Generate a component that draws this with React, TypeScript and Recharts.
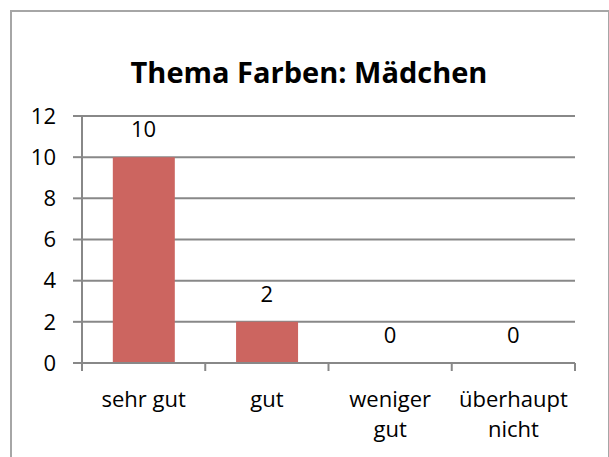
import { ComposedChart, Bar, Line, XAxis, YAxis, CartesianGrid, LabelList } from 'recharts'

const categories = ['sehr gut', 'gut', 'weniger gut', 'überhaupt nicht']
const values = [10, 2, 0, 0]
const yTicks = [0, 2, 4, 6, 8, 10, 12]

const chartData = categories.map((name, i) => ({ name, value: values[i] }))

const FONT = '"Open Sans", sans-serif'
const GRID = '#888888'
const BAR = '#CC6560'

// long labels go on two lines, as in the original
const wrapLabel = (s: string) => (s.length > 9 ? s.split(' ') : [s])

// category labels sit between boundary ticks, like the spreadsheet original
const CategoryTick = (props: any) => {
    const { x, y, payload, index, visibleTicksCount, width } = props
    const half = payload.offset ?? width / visibleTicksCount / 2
    const lines = wrapLabel(String(payload.value))
    return (
        <g>
            <line x1={x - half} x2={x - half} y1={y} y2={y + 8} stroke={GRID} strokeWidth={2} />
            {index === visibleTicksCount - 1 && (
                <line x1={x + half} x2={x + half} y1={y} y2={y + 8} stroke={GRID} strokeWidth={2} />
            )}
            <text x={x} y={y + 44} textAnchor="middle" fill="#000" style={{ fontFamily: FONT, fontSize: 22 }}>
                {lines.map((l, i) => (
                    <tspan key={i} x={x} dy={i === 0 ? 0 : 30}>
                        {l}
                    </tspan>
                ))}
            </text>
        </g>
    )
}

export default function App() {
    return (
        <div style={{ position: 'absolute', left: 0, top: 0, width: 609, height: 457, overflow: 'hidden', background: '#fff' }}>
            <div
                style={{
                    position: 'absolute',
                    left: 10,
                    top: 10,
                    width: 600,
                    height: 470,
                    border: '2px solid #a6a6a6',
                    boxSizing: 'border-box'
                }}
            />
            <div
                style={{
                    position: 'absolute',
                    left: 0,
                    top: 57,
                    width: 618,
                    textAlign: 'center',
                    fontFamily: FONT,
                    fontWeight: 700,
                    fontSize: 29,
                    lineHeight: 1
                }}
            >
                Thema Farben: Mädchen
            </div>
            <div style={{ position: 'absolute', left: 0, top: 0 }}>
                <ComposedChart
                    width={609}
                    height={457}
                    data={chartData}
                    margin={{ top: 116, right: 34, left: 0, bottom: 0 }}
                    barCategoryGap="25%"
                >
                    <CartesianGrid vertical={false} stroke={GRID} strokeWidth={2} />
                    <XAxis
                        dataKey="name"
                        height={94}
                        interval={0}
                        axisLine={{ stroke: GRID, strokeWidth: 2 }}
                        tickLine={false}
                        tickSize={0}
                        tickMargin={0}
                        tick={<CategoryTick />}
                    />
                    <YAxis
                        width={82}
                        domain={[0, 12]}
                        ticks={yTicks}
                        interval={0}
                        axisLine={{ stroke: GRID, strokeWidth: 2 }}
                        tickLine={{ stroke: GRID, strokeWidth: 2 }}
                        tickSize={9}
                        tickMargin={17}
                        tick={{ fill: '#000', fontSize: 22, fontFamily: FONT }}
                    />
                    <Bar dataKey="value" fill={BAR} isAnimationActive={false} />
                    {/* invisible series only to carry the value labels, zeros included */}
                    <Line
                        dataKey="value"
                        stroke="none"
                        dot={false}
                        activeDot={false}
                        isAnimationActive={false}
                        legendType="none"
                    >
                        <LabelList
                            dataKey="value"
                            position="top"
                            offset={20}
                            fill="#000"
                            style={{ fontFamily: FONT, fontSize: 22 }}
                        />
                    </Line>
                </ComposedChart>
            </div>
        </div>
    )
}
